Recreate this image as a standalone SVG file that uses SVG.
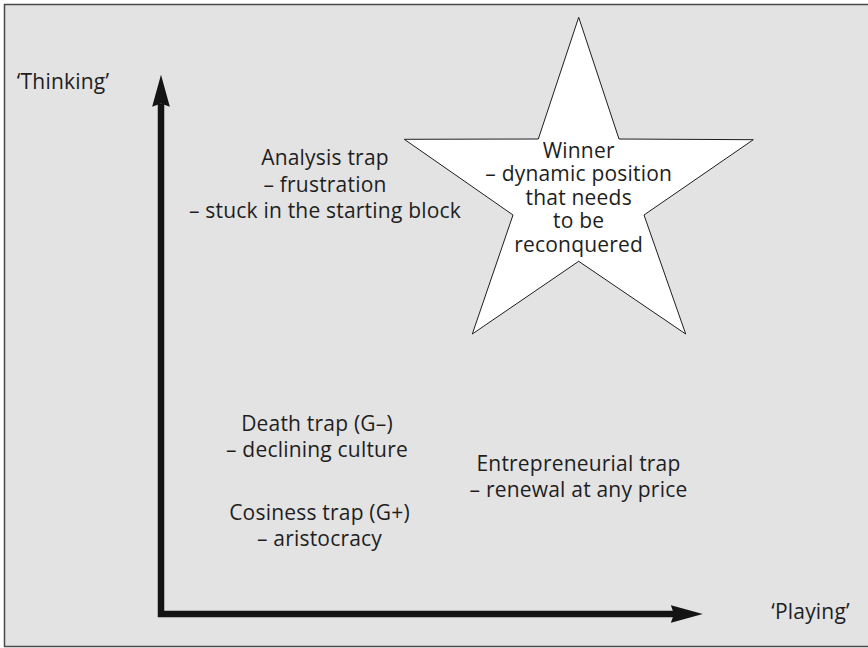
<svg xmlns="http://www.w3.org/2000/svg" width="868" height="648" viewBox="0 0 868 648">
<defs>
<style>
.t{font-family:"Open Sans","Noto Sans","Liberation Sans",sans-serif;font-size:21px;letter-spacing:0.2px;fill:#1e1e1e;text-anchor:middle}
.ax{fill:none;stroke:#141414;stroke-width:6.5;stroke-linejoin:miter}
</style>
<marker id="ah" markerUnits="userSpaceOnUse" markerWidth="32" markerHeight="18" viewBox="0 0 30 16.6" refX="3" refY="8.3" orient="auto-start-reverse">
<path d="M0,0 L30,8.3 L0,16.6 L3,8.3 Z" fill="#141414"/>
</marker>
</defs>
<rect x="0" y="0" width="868" height="648" fill="#ffffff"/>
<rect id="frame" x="4.5" y="4.5" width="880" height="642" fill="#e3e3e3" stroke="#4a4a4a" stroke-width="1.5"/>
<g id="connectors">
<path class="ax" d="M161,103.5 L161,614 L674,614" marker-start="url(#ah)" marker-end="url(#ah)"/>
</g>
<g id="thinking"><text class="t" x="63" y="89">‘Thinking’</text></g>
<g id="playing"><text class="t" x="810.5" y="619">‘Playing’</text></g>
<g id="winner">
<polygon points="578.7,17.3 619,139 753.3,139.7 644,215 685.7,334 578.7,261.3 472.3,334 513,215 404.3,139.3 538.3,139" fill="#ffffff" stroke="#1e1e1e" stroke-width="1"/>
<text class="t" x="578.7" y="157.5">Winner</text>
<text class="t" x="578.7" y="181.1">– dynamic position</text>
<text class="t" x="578.7" y="204.7">that needs</text>
<text class="t" x="578.7" y="228.3">to be</text>
<text class="t" x="578.7" y="251.9">reconquered</text>
</g>
<g id="analysis">
<text class="t" x="325" y="165">Analysis trap</text>
<text class="t" x="325" y="191.7">– frustration</text>
<text class="t" x="325" y="218.3">– stuck in the starting block</text>
</g>
<g id="death">
<text class="t" x="317" y="430.7">Death trap (G–)</text>
<text class="t" x="317" y="457.3">– declining culture</text>
</g>
<g id="cosiness">
<text class="t" x="319.5" y="520">Cosiness trap (G+)</text>
<text class="t" x="319.5" y="545.7">– aristocracy</text>
</g>
<g id="entrepreneurial">
<text class="t" x="578.5" y="470.7">Entrepreneurial trap</text>
<text class="t" x="578.5" y="497.3">– renewal at any price</text>
</g>
</svg>
